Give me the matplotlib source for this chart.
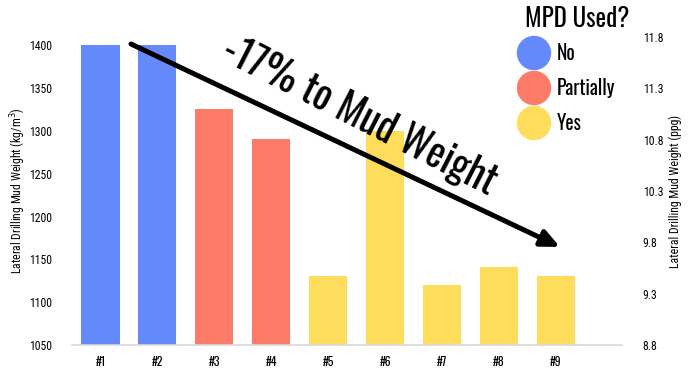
import matplotlib
matplotlib.use("Agg")
import matplotlib.pyplot as plt
from matplotlib.patches import Ellipse

plt.rcParams["font.family"] = ["Roboto Condensed", "DejaVu Sans"]
TITLE_FONT = ["Oswald", "DejaVu Sans"]

categories = ["#1", "#2", "#3", "#4", "#5", "#6", "#7", "#8", "#9"]
mud_weight = [1400, 1400, 1325, 1290, 1130, 1300, 1120, 1141, 1130]
mpd_used = ["No", "No", "Partially", "Partially", "Yes", "Yes", "Yes", "Yes", "Yes"]
left_ticks = [1050, 1100, 1150, 1200, 1250, 1300, 1350, 1400]
right_ticks = [8.8, 9.3, 9.8, 10.3, 10.8, 11.3, 11.8]
legend_labels = ["No", "Partially", "Yes"]
colors = {"No": "#6389FB", "Partially": "#FB7A68", "Yes": "#FEDD5D"}

W, H = 694, 376
fig = plt.figure(figsize=(6.94, 3.76), dpi=100)
ax = fig.add_axes([0.1037, 0.0824, 0.7925, 0.819])
x = list(range(len(categories)))
ax.bar(x, mud_weight, width=0.67, color=[colors[m] for m in mpd_used], zorder=2)
ax.set_xlim(-0.5, 9.16)
ax.set_ylim(1050, 1409.5)
ax.set_yticks(left_ticks)
ax.set_yticklabels([str(t) for t in left_ticks], fontsize=8.5)
ax.set_xticks(x)
ax.set_xticklabels(categories, fontsize=8.5, family=TITLE_FONT, fontweight="medium")
ax.tick_params(axis="y", length=0, pad=14)
ax.tick_params(axis="x", length=0, pad=8)
for s in ["top", "right", "left"]:
    ax.spines[s].set_visible(False)
ax.spines["bottom"].set_color("#D9D9D9")
ax.spines["bottom"].set_linewidth(1.2)
ax.set_ylabel("Lateral Drilling Mud Weight (kg/m$^3$)", fontsize=8.5, labelpad=1)

ax2 = ax.twinx()
ax2.set_ylim(8.8, 11.8)
ax2.set_yticks(right_ticks)
ax2.set_yticklabels([f"{t:.1f}" for t in right_ticks], fontsize=8.5)
ax2.tick_params(length=0, pad=15)
for s in ["top", "right", "left", "bottom"]:
    ax2.spines[s].set_visible(False)
ax2.set_ylabel("Lateral Drilling Mud Weight (ppg)", fontsize=8.5, labelpad=4)

# Arrow annotation (figure pixel coordinates)
ax.annotate("", xy=(560 / W, 1 - 247 / H), xytext=(131 / W, 1 - 44 / H),
            xycoords="figure fraction", textcoords="figure fraction",
            arrowprops=dict(arrowstyle="-|>,head_length=1.1,head_width=0.5",
                            color="black", lw=3.6, shrinkA=0, shrinkB=0),
            zorder=5)
fig.text(360 / W, 1 - 116 / H, "-17% to Mud Weight", rotation=-27, fontsize=29,
         family=TITLE_FONT, ha="center", va="center", rotation_mode="anchor")

# Legend
fig.text(577 / W, 1 - 19 / H, "MPD Used?", fontsize=18, family=TITLE_FONT,
         ha="center", va="center")
for i, lab in enumerate(legend_labels):
    cy = 53 + i * 35
    cx = 534
    e = Ellipse((cx / W, 1 - cy / H), 33 / W, 33 / H, transform=fig.transFigure,
                color=colors[lab], zorder=10)
    fig.patches.append(e)
    fig.text(557 / W, 1 - cy / H, lab, fontsize=14, family=TITLE_FONT,
             ha="left", va="center")

fig.savefig("out.png", dpi=100)
